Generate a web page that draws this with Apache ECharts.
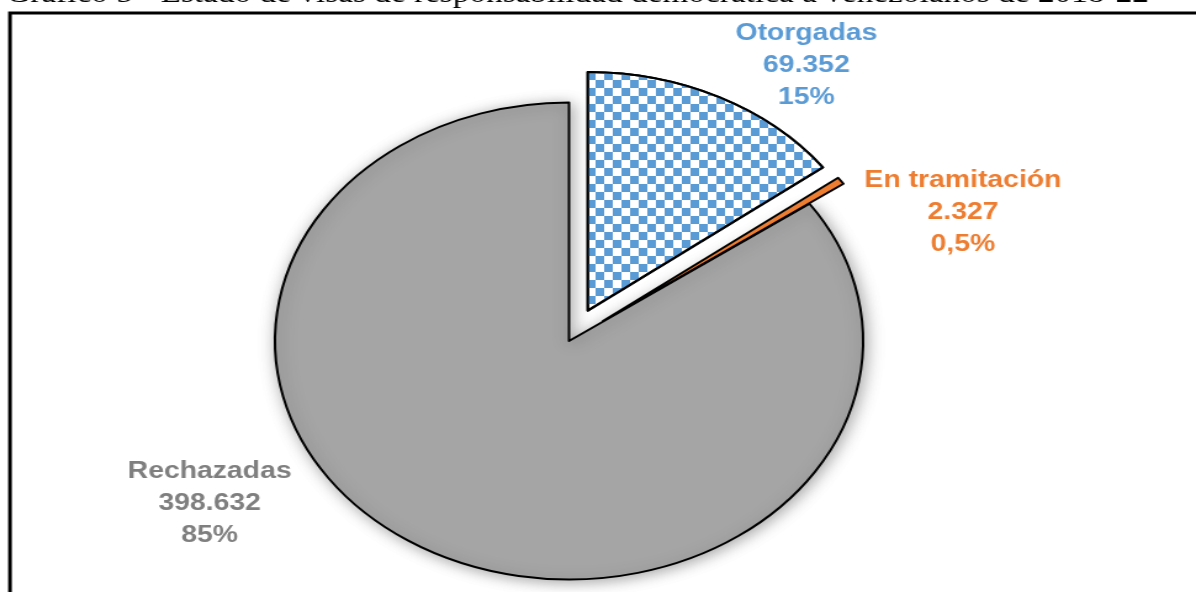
<!DOCTYPE html>
<html><head><meta charset="utf-8">
<script src="https://cdn.jsdelivr.net/npm/echarts@6/dist/echarts.min.js"></script>
<style>
html,body{margin:0;padding:0;background:#fff;overflow:hidden;width:1196px;height:592px}
#main{width:970px;height:592px;transform:scaleX(1.2330);transform-origin:0 0;}
</style>
</head><body><div id="main"></div>
<script>
// ---- data ----
const categories = ['Otorgadas', 'En tramitación', 'Rechazadas'];
const values = [69352, 2327, 398632];
const chartTitle = 'Gráfico 5 - Estado de visas de responsabilidad democrática a venezolanos de 2018-22';

// ---- styles / layout ----
const sliceColors = ['#ffffff', '#ED7D31', '#A5A5A5'];
const labelColors = ['#5B9BD5', '#ED7D31', '#7F7F7F'];
const explodeOffsets = [34, 34, 0];
const labelPos = [[654, 66], [781, 213], [170, 504]];
const shadows = [0, 0, 14];
const baseCenter = [461.5, 341];
const pieRadius = 238.5;

function fmtNum(v) { return String(v).replace(/\B(?=(\d{3})+(?!\d))/g, '.'); }
const total = values.reduce((a, b) => a + b, 0);
function fmtPct(v) {
  const p = v / total * 100;
  return (p < 1 ? p.toFixed(1).replace('.', ',') : Math.round(p).toString()) + '%';
}

const decals = [
  { symbol: 'rect', symbolSize: 1, color: '#5B9BD5', dashArrayX: [[6.5, 6.5], [0, 6.5, 6.5, 0]], dashArrayY: [8, 0], rotation: 0 },
  null, null
];

// one pie series per visible slice, so exploded slices can be offset along their mid-angle
const series = categories.map((cat, k) => {
  const before = values.slice(0, k).reduce((a, b) => a + b, 0);
  const mid = (before + values[k] / 2) / total * Math.PI * 2;
  const center = [baseCenter[0] + Math.sin(mid) * explodeOffsets[k], baseCenter[1] - Math.cos(mid) * explodeOffsets[k]];
  const data = categories.map((c, i) => {
    if (i !== k) {
      return { name: c, value: values[i], itemStyle: { color: 'rgba(0,0,0,0)', borderWidth: 0 }, label: { show: false } };
    }
    const st = {
      color: sliceColors[i], borderColor: '#000', borderWidth: 2,
      shadowBlur: shadows[i], shadowColor: 'rgba(0,0,0,0.35)',
      shadowOffsetX: shadows[i] ? 2 : 0, shadowOffsetY: shadows[i] ? 2 : 0
    };
    if (decals[i]) st.decal = decals[i];
    return { name: c, value: values[i], itemStyle: st, label: { show: true, color: labelColors[i] } };
  });
  return {
    type: 'pie',
    name: cat,
    center: center,
    radius: pieRadius,
    startAngle: 90,
    clockwise: true,
    silent: true,
    avoidLabelOverlap: false,
    z: k === 2 ? 1 : 2,
    emphasis: { disabled: true, scale: false },
    label: {
      position: 'outside',
      fontFamily: '"Liberation Sans"',
      fontWeight: 'bold',
      fontSize: 23,
      lineHeight: 32,
      formatter: p => p.name + '\n' + fmtNum(p.value) + '\n' + fmtPct(p.value)
    },
    labelLine: { show: false },
    labelLayout: p => (p.dataIndex === k ? { x: labelPos[k][0], y: labelPos[k][1], align: 'center', verticalAlign: 'middle' } : {}),
    data: data
  };
});

const chart = echarts.init(document.getElementById('main'), null, { renderer: 'canvas' });
chart.setOption({
  animation: false,
  backgroundColor: '#fff',
  graphic: [
    { type: 'text', x: 5, y: -5, style: { text: chartTitle, font: '27px "Liberation Serif"', fill: '#000', verticalAlign: 'middle' } },
    { type: 'rect', shape: { x: 8.1, y: 13, width: 3000, height: 3000 }, style: { fill: 'none', stroke: '#000', lineWidth: 3 } }
  ],
  series: series
});
</script>
</body></html>
